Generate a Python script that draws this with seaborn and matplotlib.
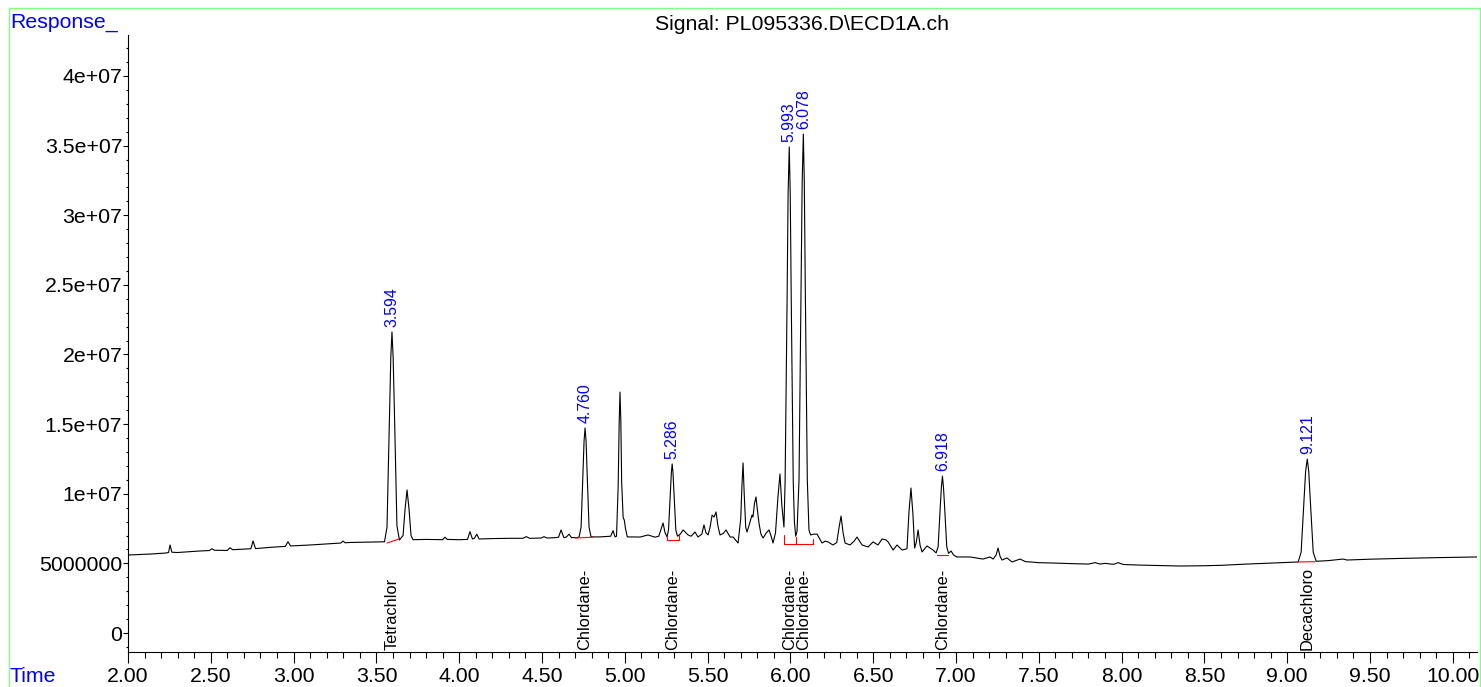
import numpy as np
import pandas as pd
import matplotlib
matplotlib.use("Agg")
import matplotlib.pyplot as plt
import matplotlib.transforms as mtransforms
from matplotlib.lines import Line2D
from matplotlib.ticker import MultipleLocator, FixedLocator, FixedFormatter, FuncFormatter
import seaborn as sns

# ---------------- data ----------------
time_min = [
    2.000, 2.133, 2.225, 2.245, 2.254, 2.265, 2.300, 2.435, 2.490, 2.507, 2.522,
    2.600, 2.616, 2.632, 2.700, 2.742, 2.755, 2.770, 2.858, 2.950, 2.966, 2.982,
    3.099, 3.200, 3.285, 3.298, 3.311, 3.340, 3.461, 3.549, 3.564, 3.579, 3.587,
    3.594, 3.601, 3.609, 3.624, 3.639, 3.661, 3.673, 3.685, 3.697, 3.709, 3.721,
    3.800, 3.900, 3.914, 3.928, 4.000, 4.050, 4.065, 4.080, 4.092, 4.106, 4.120,
    4.200, 4.300, 4.385, 4.405, 4.425, 4.495, 4.512, 4.530, 4.585, 4.600, 4.615,
    4.632, 4.648, 4.663, 4.678, 4.712, 4.724, 4.736, 4.748, 4.754, 4.760, 4.766,
    4.772, 4.784, 4.796, 4.850, 4.880, 4.915, 4.929, 4.941, 4.950, 4.960, 4.966,
    4.971, 4.976, 4.981, 4.990, 4.997, 5.004, 5.015, 5.031, 5.092, 5.140, 5.183,
    5.205, 5.220, 5.231, 5.243, 5.255, 5.264, 5.275, 5.281, 5.286, 5.291, 5.297,
    5.308, 5.318, 5.335, 5.352, 5.382, 5.400, 5.424, 5.442, 5.465, 5.478, 5.490,
    5.503, 5.515, 5.527, 5.539, 5.551, 5.562, 5.575, 5.595, 5.611, 5.636, 5.654,
    5.684, 5.700, 5.707, 5.714, 5.721, 5.730, 5.738, 5.752, 5.768, 5.774, 5.783,
    5.792, 5.800, 5.810, 5.822, 5.835, 5.855, 5.871, 5.885, 5.895, 5.910, 5.925,
    5.937, 5.948, 5.961, 5.968, 5.980, 5.986, 5.993, 5.999, 6.005, 6.017, 6.024,
    6.032, 6.040, 6.052, 6.064, 6.071, 6.078, 6.084, 6.090, 6.102, 6.112, 6.122,
    6.140, 6.161, 6.191, 6.210, 6.227, 6.257, 6.280, 6.294, 6.306, 6.318, 6.330,
    6.360, 6.385, 6.402, 6.433, 6.469, 6.499, 6.529, 6.553, 6.575, 6.590, 6.620,
    6.644, 6.674, 6.704, 6.716, 6.728, 6.740, 6.750, 6.760, 6.771, 6.783, 6.795,
    6.825, 6.861, 6.880, 6.892, 6.905, 6.912, 6.918, 6.924, 6.931, 6.944, 6.955,
    6.970, 6.985, 7.006, 7.085, 7.163, 7.205, 7.224, 7.242, 7.254, 7.266, 7.278,
    7.308, 7.338, 7.387, 7.420, 7.450, 7.500, 7.600, 7.700, 7.800, 7.840, 7.870,
    7.900, 7.950, 7.980, 8.010, 8.100, 8.200, 8.353, 8.500, 8.600, 8.757, 8.900,
    9.000, 9.066, 9.084, 9.102, 9.111, 9.121, 9.130, 9.139, 9.157, 9.175, 9.250,
    9.337, 9.361, 9.500, 9.700, 9.900, 10.146,
]
response_e6 = [
    5.60, 5.67, 5.74, 5.78, 6.32, 5.80, 5.78, 5.89, 5.92, 6.05, 5.94,
    5.93, 6.12, 5.98, 6.02, 6.05, 6.61, 6.06, 6.15, 6.22, 6.55, 6.25,
    6.32, 6.40, 6.46, 6.60, 6.48, 6.50, 6.53, 6.55, 7.60, 15.70, 19.80,
    21.62, 19.80, 15.80, 7.70, 6.68, 7.00, 8.88, 10.27, 8.90, 7.00, 6.70,
    6.72, 6.70, 6.88, 6.72, 6.70, 6.72, 7.28, 6.75, 6.80, 7.10, 6.75,
    6.78, 6.80, 6.80, 6.92, 6.80, 6.82, 6.92, 6.82, 6.85, 6.88, 7.40,
    6.85, 6.90, 7.10, 6.85, 6.85, 6.90, 7.60, 11.65, 13.80, 14.72, 13.80,
    11.65, 7.60, 6.90, 6.90, 6.92, 6.95, 7.35, 6.90, 6.95, 10.60, 15.10,
    17.30, 15.20, 10.80, 8.30, 8.10, 7.50, 6.90, 6.90, 6.89, 7.04, 6.88,
    6.95, 7.50, 7.90, 7.20, 6.90, 7.40, 10.10, 11.50, 12.14, 11.50, 10.10,
    7.40, 6.95, 7.10, 7.40, 7.04, 6.95, 7.25, 6.89, 7.10, 7.76, 7.20,
    7.04, 7.60, 8.47, 8.33, 8.69, 7.70, 7.04, 7.15, 7.40, 6.89, 6.89,
    6.46, 8.20, 10.50, 12.21, 10.00, 7.60, 7.25, 7.80, 8.47, 8.33, 9.30,
    9.77, 8.90, 7.90, 7.10, 6.82, 7.20, 7.40, 6.90, 6.46, 7.20, 9.80,
    11.42, 9.20, 7.61, 10.90, 24.00, 31.50, 34.90, 31.50, 24.00, 10.90, 8.00,
    6.95, 7.30, 11.00, 24.60, 32.30, 35.83, 32.30, 24.60, 11.00, 7.40, 7.04,
    7.10, 7.10, 6.46, 6.60, 6.54, 6.32, 6.50, 7.60, 8.40, 7.20, 6.46,
    6.32, 6.60, 6.89, 6.32, 6.18, 6.54, 6.32, 6.75, 6.70, 6.54, 5.96,
    6.32, 5.96, 6.05, 8.70, 10.41, 8.50, 6.10, 6.50, 7.40, 6.30, 5.82,
    6.25, 5.96, 5.75, 6.20, 9.10, 10.50, 11.27, 10.50, 9.10, 6.20, 5.72,
    5.89, 5.60, 5.46, 5.46, 5.31, 5.46, 5.31, 5.60, 6.10, 5.50, 5.24,
    5.39, 5.10, 5.31, 5.12, 5.10, 5.05, 5.02, 4.98, 4.95, 5.05, 4.95,
    5.00, 4.93, 5.05, 4.92, 4.88, 4.85, 4.81, 4.83, 4.86, 4.95, 5.02,
    5.07, 5.10, 5.80, 9.60, 11.60, 12.49, 11.60, 9.60, 5.80, 5.15, 5.20,
    5.31, 5.24, 5.30, 5.36, 5.41, 5.46,
]

# integrated peaks: retention time, compound name
peak_rt = [3.594, 4.760, 5.286, 5.993, 6.078, 6.918, 9.121]
peak_rt_label = ["3.594", "4.760", "5.286", "5.993", "6.078", "6.918", "9.121"]
compound_name = ["Tetrachlor", "Chlordane-", "Chlordane-", "Chlordane-",
                 "Chlordane-", "Chlordane-", "Decachloro"]

# integration baselines (red), each a polyline: times and responses (x1e6)
baseline_t = [
    [3.564, 3.637],
    [4.700, 4.808],
    [5.256, 5.256, 5.327, 5.327],
    [5.962, 5.962, 6.137, 6.137],
    [6.034, 6.034],
    [6.886, 6.952],
    [9.066, 9.168],
]
baseline_r = [
    [6.46, 6.75],
    [6.82, 6.88],
    [6.96, 6.68, 6.68, 7.04],
    [7.04, 6.39, 6.39, 6.75],
    [6.39, 6.90],
    [5.60, 5.60],
    [5.10, 5.12],
]

x_major_ticks = [2.0, 2.5, 3.0, 3.5, 4.0, 4.5, 5.0, 5.5, 6.0, 6.5, 7.0, 7.5,
                 8.0, 8.5, 9.0, 9.5, 10.0]
y_major_ticks = [0, 5e6, 1e7, 1.5e7, 2e7, 2.5e7, 3e7, 3.5e7, 4e7]
y_tick_labels = ["0", "5000000", "1e+07", "1.5e+07", "2e+07", "2.5e+07",
                 "3e+07", "3.5e+07", "4e+07"]
title_text = "Signal: PL095336.D\\ECD1A.ch"

# ---------------- figure ----------------
sns.set_style("white")
plt.rcParams["font.family"] = ["Liberation Sans", "DejaVu Sans"]

W, H = 1481, 687
fig = plt.figure(figsize=(W / 100, H / 100), dpi=100)
fig.patch.set_facecolor("white")
ax = fig.add_axes([128 / W, 1 - 652 / H, (1477 - 128) / W, (652 - 35) / H])
ax.set_facecolor("white")

df = pd.DataFrame({"time": time_min, "response": np.array(response_e6) * 1e6})
sns.lineplot(data=df, x="time", y="response", ax=ax, color="black",
             linewidth=0.8, sort=False, estimator=None)

for bt, br in zip(baseline_t, baseline_r):
    ax.plot(bt, np.array(br) * 1e6, color="red", linewidth=0.8)

ax.set_xlim(2.0, 10.146)
ax.set_ylim(-1.364e6, 4.294e7)
ax.set_xlabel("")
ax.set_ylabel("")

for s in ["top", "right"]:
    ax.spines[s].set_visible(False)
for s in ["left", "bottom"]:
    ax.spines[s].set_color("black")
    ax.spines[s].set_linewidth(0.8)

ax.xaxis.set_major_locator(FixedLocator(x_major_ticks))
ax.xaxis.set_minor_locator(MultipleLocator(0.1))
ax.xaxis.set_major_formatter(FuncFormatter(lambda v, p: f"{v:.2f}"))
ax.yaxis.set_major_locator(FixedLocator(y_major_ticks))
ax.yaxis.set_major_formatter(FixedFormatter(y_tick_labels))
ax.yaxis.set_minor_locator(MultipleLocator(1e6))

ax.tick_params(axis="x", which="major", direction="out", length=8, width=0.8,
               colors="black", labelsize=15.3, pad=3, bottom=True)
ax.tick_params(axis="x", which="minor", direction="out", length=4.3, width=0.8,
               colors="black", bottom=True)
ax.tick_params(axis="y", which="major", direction="out", length=3.6, width=0.8,
               colors="black", labelsize=15.3, pad=0.5, left=True)
ax.tick_params(axis="y", which="minor", direction="out", length=1.8, width=0.8,
               colors="black", left=True)

t_arr = np.array(time_min)
r_arr = np.array(response_e6) * 1e6
blend = mtransforms.blended_transform_factory(ax.transData, ax.transAxes)
for rt, lbl, name in zip(peak_rt, peak_rt_label, compound_name):
    apex = np.interp(rt, t_arr, r_arr)
    ax.annotate(lbl, xy=(rt, apex), xytext=(0, 3.5), textcoords="offset points",
                rotation=90, ha="center", va="bottom", color="blue",
                fontsize=11.4)
    ax.text(rt, 0.003, name, transform=blend, rotation=90, ha="center",
            va="bottom", color="black", fontsize=11.8)

fig.text(802 / W, 1 - 30 / H, title_text, ha="center", va="baseline",
         fontsize=15.3, color="black")
fig.text(10 / W, 1 - 28 / H, "Response_", ha="left", va="baseline",
         fontsize=15.3, color="blue")
fig.text(10 / W, 0.5 / H, "Time", ha="left", va="bottom",
         fontsize=15.3, color="blue")

green = "#80ff80"
fig.add_artist(Line2D([9 / W, 9 / W], [0, 1 - 8 / H], transform=fig.transFigure,
                      color=green, linewidth=1.0))
fig.add_artist(Line2D([9 / W, 1], [1 - 8 / H, 1 - 8 / H],
                      transform=fig.transFigure, color=green, linewidth=1.0))
fig.add_artist(Line2D([1479.5 / W, 1479.5 / W], [0, 1 - 8 / H],
                      transform=fig.transFigure, color=green, linewidth=1.0))

fig.savefig("out.png", dpi=100, facecolor="white")
